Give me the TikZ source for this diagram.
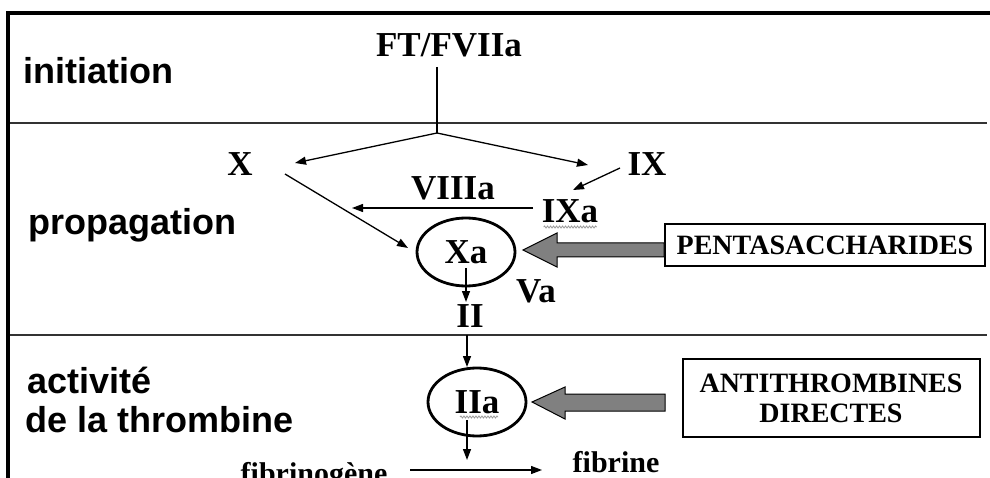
\documentclass[tikz,border=0pt]{standalone}
\usepackage{fontspec}
\setmainfont{Liberation Serif}
\setsansfont{Liberation Sans}
\usetikzlibrary{arrows.meta,shapes.geometric,decorations.pathmorphing}
\begin{document}
\begin{tikzpicture}[x=1pt,y=-1pt,
  lab/.style={anchor=base,inner sep=0pt,font=\fontsize{35}{40}\selectfont\bfseries},
  phase/.style={anchor=base west,inner sep=0pt,font=\fontsize{36}{39}\selectfont\sffamily\bfseries},
  arr/.style={line width=1.3pt,-{Triangle[length=11pt,width=8pt]}},
  plain/.style={line width=1.3pt},
  ell/.style={ellipse,draw,line width=2.8pt,minimum width=98pt,minimum height=68pt,inner sep=0pt,font=\fontsize{35}{40}\selectfont\bfseries},
  rule/.style={line width=2pt,draw=black!80},
  frame/.style={line width=3.5pt,draw=black},
  boxed/.style={draw,line width=2pt,inner sep=0pt,font=\fontsize{28}{30}\selectfont\bfseries,align=center},
  blk/.style={fill=black!50,draw=black,line width=1pt},
  squig/.style={draw=black!40,line width=0.8pt,decorate,decoration={snake,amplitude=1pt,segment length=3pt}},
  small/.style={anchor=base,inner sep=0pt,font=\fontsize{30}{34}\selectfont\bfseries}
]
\useasboundingbox (0,0) rectangle (990,478);
\clip (0,0) rectangle (990,478);
\fill[white] (0,0) rectangle (990,478);

% frame and section rules
\coordinate (tl) at (8,13);
\coordinate (tr) at (990,13);
\coordinate (bl) at (8,480);
\coordinate (r1l) at (8,123);
\coordinate (r1r) at (987,123);
\coordinate (r2l) at (8,335);
\coordinate (r2r) at (987,335);
\draw[rule] (r1l) -- (r1r);
\draw[rule] (r2l) -- (r2r);
\draw[frame] (tr) -- (6,13);
\draw[frame] (tl) -- (bl);

% phase labels
\node[phase] (init) at (23,84) {initiation};
\node[phase] (prop) at (28,235) {propagation};
\node[phase] (act1) at (27,393) {activité};
\node[phase] (act2) at (25,432) {de la thrombine};

% factors
\node[lab] (ft) at (449,57) {FT/FVIIa};
\node[lab] (x) at (240,176) {X};
\node[lab] (ix) at (647,176) {IX};
\node[lab] (viiia) at (453,200) {VIIIa};
\node[lab] (ixa) at (570,223) {IXa};
\node[ell] (xa) at (466,252) {Xa};
\node[lab] (va) at (536,302) {Va};
\node[lab] (ii) at (470,327) {II};
\node[ell] (iia) at (477,402) {IIa};
\node[small] (fibrine) at (616,472) {fibrine};
\node[small] (fibrinogene) at (314,483) {fibrinogène};

% spell-check squiggles
\draw[squig] (ixa.base west) ++(2,4) -- ++(53,0);
\draw[squig] (460,417) -- (498,417);

% drug boxes
\node[boxed,minimum width=320pt,minimum height=42pt] (penta) at (825,245) {PENTASACCHARIDES};
\node[boxed,minimum width=297pt,minimum height=78pt] (anti) at (831,398) {ANTITHROMBINES\\DIRECTES};

% connector points
\coordinate (ftfoot) at (437,67);
\coordinate (j) at (437,133);
\coordinate (xtip) at (295,163);
\coordinate (ixtip) at (588,165);
\coordinate (ixfrom) at (620,168);
\coordinate (ixatip) at (573,190);
\coordinate (ixafrom) at (533,208);
\coordinate (viiitip) at (352,208);
\coordinate (xfrom) at (285,174);
\coordinate (xatip) at (408,248);
\coordinate (xain) at (466,268);
\coordinate (iitip) at (466,302);
\coordinate (iifoot) at (467,335);
\coordinate (iiatip) at (467,367);
\coordinate (iiain) at (467,420);
\coordinate (iiaout) at (467,460);
\coordinate (fgfrom) at (410,470);
\coordinate (fbtip) at (542,470);

\draw[plain] (ftfoot) -- (j);
\draw[arr] (j) -- (xtip);
\draw[arr] (j) -- (ixtip);
\draw[arr] (ixfrom) -- (ixatip);
\draw[arr] (ixafrom) -- (viiitip);
\draw[arr] (xfrom) -- (xatip);
\draw[arr] (xain) -- (iitip);
\draw[arr] (iifoot) -- (iiatip);
\draw[arr] (iiain) -- (iiaout);
\draw[arr] (fgfrom) -- (fbtip);

% grey block arrows
\draw[blk] (523,250) -- (557,233) -- (557,243) -- (penta.west |- 0,243) -- (penta.west |- 0,257) -- (557,257) -- (557,267) -- cycle;
\draw[blk] (532,402) -- (565,387) -- (565,394) -- (665,394) -- (665,411) -- (565,411) -- (565,419) -- cycle;
\end{tikzpicture}
\end{document}
